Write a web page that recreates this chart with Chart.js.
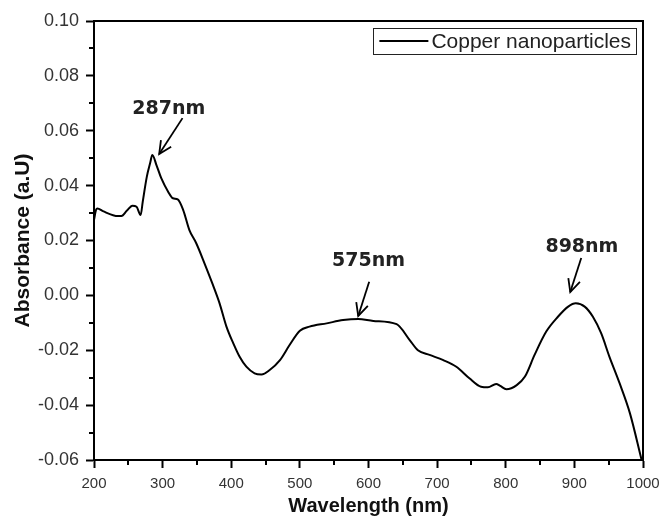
<!DOCTYPE html>
<html><head><meta charset="utf-8">
<script src="https://cdn.jsdelivr.net/npm/chart.js@4/dist/chart.umd.min.js"></script>
<style>html,body{margin:0;padding:0;background:#fff;} #wrap{width:662px;height:516px;}</style>
</head><body><div id="wrap"><canvas id="c" width="662" height="516"></canvas></div>
<script>
// ---- data ----
const wavelength = [200, 203, 205, 213, 235, 240, 248, 256, 262, 268, 271, 277, 282, 285, 291, 298, 308, 315, 322, 330, 339, 349, 361, 373, 383, 393, 403, 412, 422, 434, 444, 456, 471, 485, 500, 514, 539, 563, 585, 607, 641, 660, 672, 689, 709, 728, 747, 764, 774, 786, 792, 801, 816, 828, 842, 859, 876, 891, 902, 915, 927, 939, 951, 966, 981, 998];
const absorbance = [0.0275, 0.0312, 0.0317, 0.0307, 0.0289, 0.0289, 0.0309, 0.0327, 0.0323, 0.0293, 0.0341, 0.0433, 0.0484, 0.0512, 0.0475, 0.0427, 0.0378, 0.0354, 0.0350, 0.0311, 0.0238, 0.0190, 0.0117, 0.0040, -0.0029, -0.0114, -0.0175, -0.0223, -0.0260, -0.0284, -0.0288, -0.0272, -0.0236, -0.0181, -0.0129, -0.0114, -0.0102, -0.0090, -0.0086, -0.0093, -0.0105, -0.0163, -0.0200, -0.0217, -0.0236, -0.0260, -0.0302, -0.0333, -0.0335, -0.0323, -0.0330, -0.0342, -0.0327, -0.0296, -0.0217, -0.0132, -0.0078, -0.0041, -0.0029, -0.0041, -0.0078, -0.0138, -0.0223, -0.0321, -0.0430, -0.0600];
const seriesLabel = 'Copper nanoparticles';
const xRange = [200, 1000];
const yRange = [-0.06, 0.10];
const xStep = 100;
const yStep = 0.02;
const xTitle = 'Wavelength (nm)';
const yTitle = 'Absorbance (a.U)';
const peakLabels = ['287nm', '575nm', '898nm'];

const points = wavelength.map((w, i) => ({x: w, y: absorbance[i]}));

const decor = {
  id: 'decor',
  afterDraw(chart, args, opts) {
    const {ctx, chartArea: a, scales: {x, y}} = chart;
    ctx.save();
    ctx.strokeStyle = '#000';
    ctx.lineWidth = 2;
    // top and right frame
    ctx.beginPath();
    ctx.moveTo(a.left - 1, a.top);
    ctx.lineTo(a.right, a.top);
    ctx.lineTo(a.right, a.bottom + 1);
    ctx.stroke();
    // minor ticks at mid points of major ticks
    const xt = x.ticks.map(t => t.value);
    for (let i = 0; i < xt.length - 1; i++) {
      const px = Math.round(x.getPixelForValue((xt[i] + xt[i + 1]) / 2));
      ctx.beginPath(); ctx.moveTo(px, a.bottom); ctx.lineTo(px, a.bottom + opts.minorLen); ctx.stroke();
    }
    const yt = y.ticks.map(t => t.value);
    for (let i = 0; i < yt.length - 1; i++) {
      const py = Math.round(y.getPixelForValue((yt[i] + yt[i + 1]) / 2));
      ctx.beginPath(); ctx.moveTo(a.left, py); ctx.lineTo(a.left - opts.minorLen, py); ctx.stroke();
    }
    // peak annotations
    ctx.font = opts.noteFont;
    ctx.fillStyle = opts.noteColor;
    ctx.textAlign = 'center';
    ctx.textBaseline = 'middle';
    opts.notes.forEach((n, i) => {
      const tx = x.getPixelForValue(n.text[0]), ty = y.getPixelForValue(n.text[1]);
      ctx.fillText(peakLabels[i], tx, ty);
      const sx = x.getPixelForValue(n.from[0]), sy = y.getPixelForValue(n.from[1]);
      const ex = x.getPixelForValue(n.to[0]), ey = y.getPixelForValue(n.to[1]);
      ctx.lineWidth = 1.8;
      ctx.strokeStyle = '#000';
      ctx.beginPath(); ctx.moveTo(sx, sy); ctx.lineTo(ex, ey); ctx.stroke();
      const ang = Math.atan2(sy - ey, sx - ex);
      const L = 14, da = 0.45;
      ctx.beginPath();
      ctx.moveTo(ex + L * Math.cos(ang + da), ey + L * Math.sin(ang + da));
      ctx.lineTo(ex, ey);
      ctx.lineTo(ex + L * Math.cos(ang - da), ey + L * Math.sin(ang - da));
      ctx.stroke();
    });
    // legend box inside top-right corner
    const ds = chart.data.datasets[0];
    ctx.font = opts.legendFont;
    const tw = ctx.measureText(ds.label).width;
    const bw = 6 + 49 + 3 + tw + 5, bh = 26;
    const bx = a.right - 7 - bw, by = a.top + 7;
    ctx.lineWidth = 1;
    ctx.strokeStyle = '#222';
    ctx.strokeRect(Math.round(bx) + 0.5, Math.round(by) + 0.5, Math.round(bw), bh);
    ctx.lineWidth = 2;
    ctx.strokeStyle = ds.borderColor;
    ctx.beginPath(); ctx.moveTo(bx + 6, by + bh / 2); ctx.lineTo(bx + 55, by + bh / 2); ctx.stroke();
    ctx.fillStyle = '#222';
    ctx.textAlign = 'left';
    ctx.fillText(ds.label, bx + 58, by + bh / 2 + 1);
    ctx.restore();
  }
};

new Chart(document.getElementById('c'), {
  type: 'line',
  data: {
    datasets: [{
      label: seriesLabel,
      data: points,
      borderColor: '#000',
      borderWidth: 2,
      pointRadius: 0,
      fill: false,
      cubicInterpolationMode: 'monotone'
    }]
  },
  options: {
    responsive: false,
    animation: false,
    devicePixelRatio: 1,
    layout: {padding: {left: 0, right: 19, top: 21, bottom: 0}},
    plugins: {
      legend: {display: false},
      tooltip: {enabled: false},
      decor: {
        minorLen: 5,
        noteFont: 'bold 19px "DejaVu Sans"',
        noteColor: '#222',
        legendFont: '21px "Liberation Sans"',
        notes: [
          {text: [309, 0.0679], from: [329, 0.0646], to: [295, 0.0515]},
          {text: [600, 0.0125], from: [601, 0.0050], to: [585, -0.0075]},
          {text: [911, 0.0176], from: [910, 0.0136], to: [894, 0.0012]}
        ]
      }
    },
    scales: {
      x: {
        type: 'linear',
        min: xRange[0], max: xRange[1],
        afterFit(s) { s.height = 56; s.paddingLeft = 0; s.paddingRight = 0; },
        border: {color: '#000', width: 2},
        grid: {drawOnChartArea: false, tickLength: 8, tickColor: '#000', tickWidth: 2},
        ticks: {stepSize: xStep, color: '#333', padding: 7, maxRotation: 0,
                font: {family: '"Liberation Sans", Arial', size: 15},
                callback: v => String(v)},
        title: {display: true, text: xTitle, color: '#111', padding: {top: 0, bottom: -2},
                font: {family: '"Liberation Sans", Arial', size: 20, weight: 'bold'}}
      },
      y: {
        min: yRange[0], max: yRange[1],
        afterFit(s) { s.width = 94; s.paddingTop = 0; s.paddingBottom = 0; },
        border: {color: '#000', width: 2},
        grid: {drawOnChartArea: false, tickLength: 8, tickColor: '#000', tickWidth: 2},
        ticks: {stepSize: yStep, color: '#333', padding: 7,
                font: {family: '"Liberation Sans", Arial', size: 18},
                callback: v => (Math.abs(v) < 1e-9 ? 0 : v).toFixed(2)},
        title: {display: true, text: yTitle, color: '#111', padding: {top: 11, bottom: 0},
                font: {family: '"Liberation Sans", Arial', size: 21, weight: 'bold'}}
      }
    }
  },
  plugins: [decor]
});
</script>
</body></html>
